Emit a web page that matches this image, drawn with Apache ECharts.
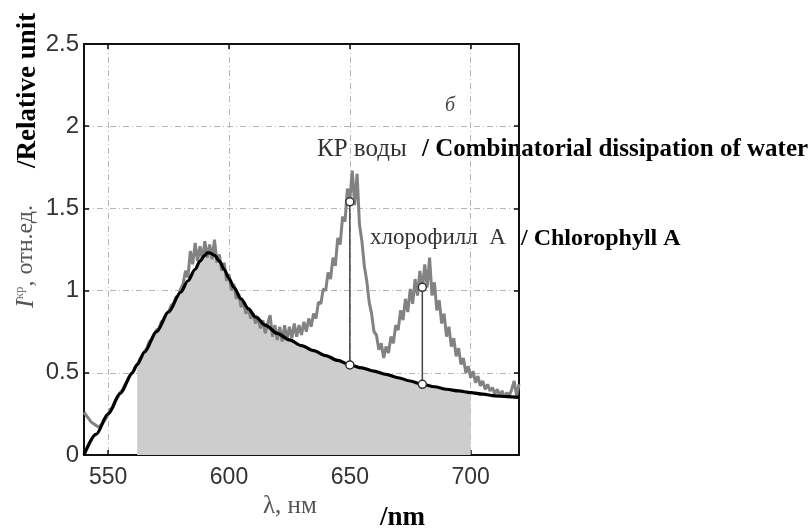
<!DOCTYPE html>
<html>
<head>
<meta charset="utf-8">
<script src="https://cdn.jsdelivr.net/npm/echarts@6/dist/echarts.min.js"></script>
<style>
  html, body { margin: 0; padding: 0; background: #fff; }
  #chart { width: 809px; height: 530px; }
</style>
</head>
<body>
<div id="chart"></div>
<script>
// tick labels
var xTicks = [550, 600, 650, 700];
var yTicks = [0, 0.5, 1, 1.5, 2, 2.5];

// measured spectrum (grey), one value per nm starting at 540 nm
var spectrumStart = 540;
var spectrum = [
  0.26, 0.24, 0.22, 0.20, 0.19, 0.18, 0.17, 0.18, 0.20, 0.22,
  0.25, 0.28, 0.29, 0.33, 0.35, 0.38, 0.40, 0.43, 0.45, 0.48,
  0.50, 0.53, 0.55, 0.58, 0.60, 0.63, 0.65, 0.69, 0.70, 0.73,
  0.76, 0.77, 0.81, 0.82, 0.86, 0.87, 0.91, 0.92, 0.96, 0.97,
  1.01, 1.04, 1.12, 1.08, 1.24, 1.16, 1.29, 1.18, 1.27, 1.19,
  1.30, 1.20, 1.28, 1.19, 1.31, 1.17, 1.22, 1.12, 1.17, 1.06,
  1.10, 1.00, 1.04, 0.95, 0.98, 0.90, 0.93, 0.86, 0.89, 0.83,
  0.86, 0.80, 0.84, 0.77, 0.82, 0.74, 0.80, 0.85, 0.72, 0.79,
  0.70, 0.78, 0.69, 0.79, 0.70, 0.78, 0.71, 0.80, 0.72, 0.79,
  0.73, 0.81, 0.75, 0.83, 0.78, 0.86, 0.83, 0.93, 0.92, 1.01,
  1.00, 1.11, 1.07, 1.20, 1.15, 1.32, 1.28, 1.45, 1.42, 1.62,
  1.55, 1.73, 1.52, 1.71, 1.40, 1.30, 1.15, 1.06, 0.93, 0.86,
  0.75, 0.73, 0.64, 0.68, 0.59, 0.66, 0.62, 0.72, 0.68, 0.79,
  0.76, 0.88, 0.82, 0.95, 0.87, 1.01, 0.92, 1.07, 0.97, 1.12,
  1.00, 1.16, 1.02, 1.20, 0.97, 1.05, 0.88, 0.94, 0.80, 0.86,
  0.72, 0.78, 0.66, 0.71, 0.60, 0.65, 0.55, 0.59, 0.50, 0.54,
  0.47, 0.51, 0.44, 0.48, 0.42, 0.45, 0.40, 0.43, 0.39, 0.41,
  0.37, 0.40, 0.36, 0.39, 0.35, 0.38, 0.36, 0.40, 0.45, 0.36,
  0.43
];

// fitted background (black curve)
var curveWl = [540, 545, 550, 555, 560, 562, 565, 570, 575, 580, 583, 586, 588, 590, 591, 592, 594, 596, 598, 600,
  602, 605, 608, 611, 615, 620, 625, 630, 635, 640, 645, 650, 655, 660, 665, 670, 675, 680, 685, 690, 695, 700,
  705, 710, 715, 720];
var curveVal = [0, 0.125, 0.25, 0.375, 0.5, 0.55, 0.625, 0.75, 0.87, 0.99, 1.06, 1.13, 1.18, 1.215, 1.23, 1.23, 1.215, 1.18, 1.13, 1.075,
  1.02, 0.95, 0.89, 0.84, 0.79, 0.74, 0.70, 0.665, 0.635, 0.605, 0.575, 0.548, 0.53, 0.51, 0.49, 0.47, 0.45, 0.43, 0.415, 0.40, 0.39, 0.38,
  0.37, 0.36, 0.355, 0.35];

// shaded integration window
var fillFrom = 562;
var fillTo = 700;

// peak markers: wavelength, background level, peak level
var markerWl = [650, 680];
var markerLow = [0.548, 0.43];
var markerHigh = [1.54, 1.02];

var spectrumData = spectrum.map(function (v, i) { return [spectrumStart + i, v]; });
var curveData = curveWl.map(function (w, i) { return [w, curveVal[i]]; });
var fillData = curveData.filter(function (p) { return p[0] >= fillFrom && p[0] <= fillTo; });

var gridLine = { show: true, lineStyle: { color: '#b5b5b5', width: 1, type: [6, 3, 1, 3] } };
var serif = '"Liberation Serif", "DejaVu Serif", serif';
var sans = '"Liberation Sans", Arial, sans-serif';

var series = [
  {
    name: 'fill', type: 'line', data: fillData, smooth: 0.3, smoothMonotone: 'x', symbol: 'none',
    lineStyle: { width: 0 }, areaStyle: { color: '#cdcdcd', opacity: 1 }, z: 1
  },
  {
    name: 'spectrum', type: 'line', data: spectrumData, symbol: 'none',
    lineStyle: { color: '#828282', width: 3 }, z: 2
  },
  {
    name: 'background', type: 'line', data: curveData, smooth: 0.3, smoothMonotone: 'x', symbol: 'none',
    lineStyle: { color: '#000', width: 3.2 }, z: 3
  }
];
markerWl.forEach(function (w, i) {
  series.push({
    type: 'line', data: [[w, markerLow[i]], [w, markerHigh[i]]],
    symbol: 'circle', symbolSize: 8,
    itemStyle: { color: '#fff', borderColor: '#333', borderWidth: 1.5 },
    lineStyle: { color: '#444', width: 1.5 }, z: 4
  });
});

var frameLine = { show: true, onZero: false, lineStyle: { color: '#111', width: 2 } };
var innerTick = { show: true, inside: true, length: 5, lineStyle: { color: '#111', width: 1.5 } };

var myChart = echarts.init(document.getElementById('chart'));
var option = {
    animation: false,
    backgroundColor: '#fff',
    grid: { left: 84, right: 290, top: 44, bottom: 75, outerBoundsMode: 'none' },
    xAxis: [{
        type: 'value', min: 540, max: 720,
        axisLine: frameLine,
        axisTick: Object.assign({ customValues: xTicks }, innerTick),
        axisLabel: { customValues: xTicks, margin: 11, color: '#333', fontSize: 23, fontFamily: sans },
        splitLine: gridLine
    }, {
        type: 'value', position: 'top', min: 540, max: 720,
        axisLine: frameLine,
        axisTick: Object.assign({ customValues: xTicks }, innerTick),
        axisLabel: { show: false },
        splitLine: { show: false }
    }],
    yAxis: [{
        type: 'value', min: 0, max: 2.5, interval: 0.5,
        axisLine: frameLine,
        axisTick: innerTick,
        axisLabel: {
            margin: 5, color: '#333', fontSize: 24, fontFamily: sans,
            formatter: function (v) { return yTicks.indexOf(v) >= 0 ? String(v) : ''; }
        },
        splitLine: gridLine
    }, {
        type: 'value', position: 'right', min: 0, max: 2.5, interval: 0.5,
        axisLine: frameLine,
        axisTick: innerTick,
        axisLabel: { show: false },
        splitLine: { show: false }
    }],
    series: series,
    graphic: [
        { type: 'text', left: 445, top: 96, style: { text: 'б', font: 'italic 20px ' + serif, fill: '#444' } },
        { type: 'text', left: 317, top: 137, style: { text: 'КР воды', font: '25px ' + serif, fill: '#333' } },
        { type: 'text', left: 422, top: 137, style: { text: '/ Combinatorial dissipation of water', font: 'bold 25px ' + serif, fill: '#000' } },
        { type: 'text', left: 370, top: 226, style: { text: 'хлорофилл  А', font: '23px ' + serif, fill: '#333' } },
        { type: 'text', left: 521, top: 227, style: { text: '/ Chlorophyll A', font: 'bold 24px ' + serif, fill: '#000' } },
        { type: 'text', left: 263, top: 494, style: { text: 'λ, нм', font: '25px ' + serif, fill: '#555' } },
        { type: 'text', left: 380, top: 505, style: { text: '/nm', font: 'bold 27px ' + serif, fill: '#000' } },
        {
            type: 'text', x: 28, y: 168, rotation: Math.PI / 2,
            style: { text: '/Relative unit', font: 'bold 27px ' + serif, fill: '#000', verticalAlign: 'middle' }
        },
        {
            type: 'text', x: 26, y: 308, rotation: Math.PI / 2,
            style: {
                text: '{i|I}{s|кр}{n|, отн.ед.}', verticalAlign: 'middle', fill: '#555',
                rich: {
                    i: { fontFamily: serif, fontStyle: 'italic', fontSize: 26, fill: '#555' },
                    s: { fontFamily: serif, fontSize: 13, fill: '#777', verticalAlign: 'top' },
                    n: { fontFamily: serif, fontSize: 24, fill: '#555' }
                }
            }
        }
    ]
};
myChart.setOption(option);
</script>
</body>
</html>
